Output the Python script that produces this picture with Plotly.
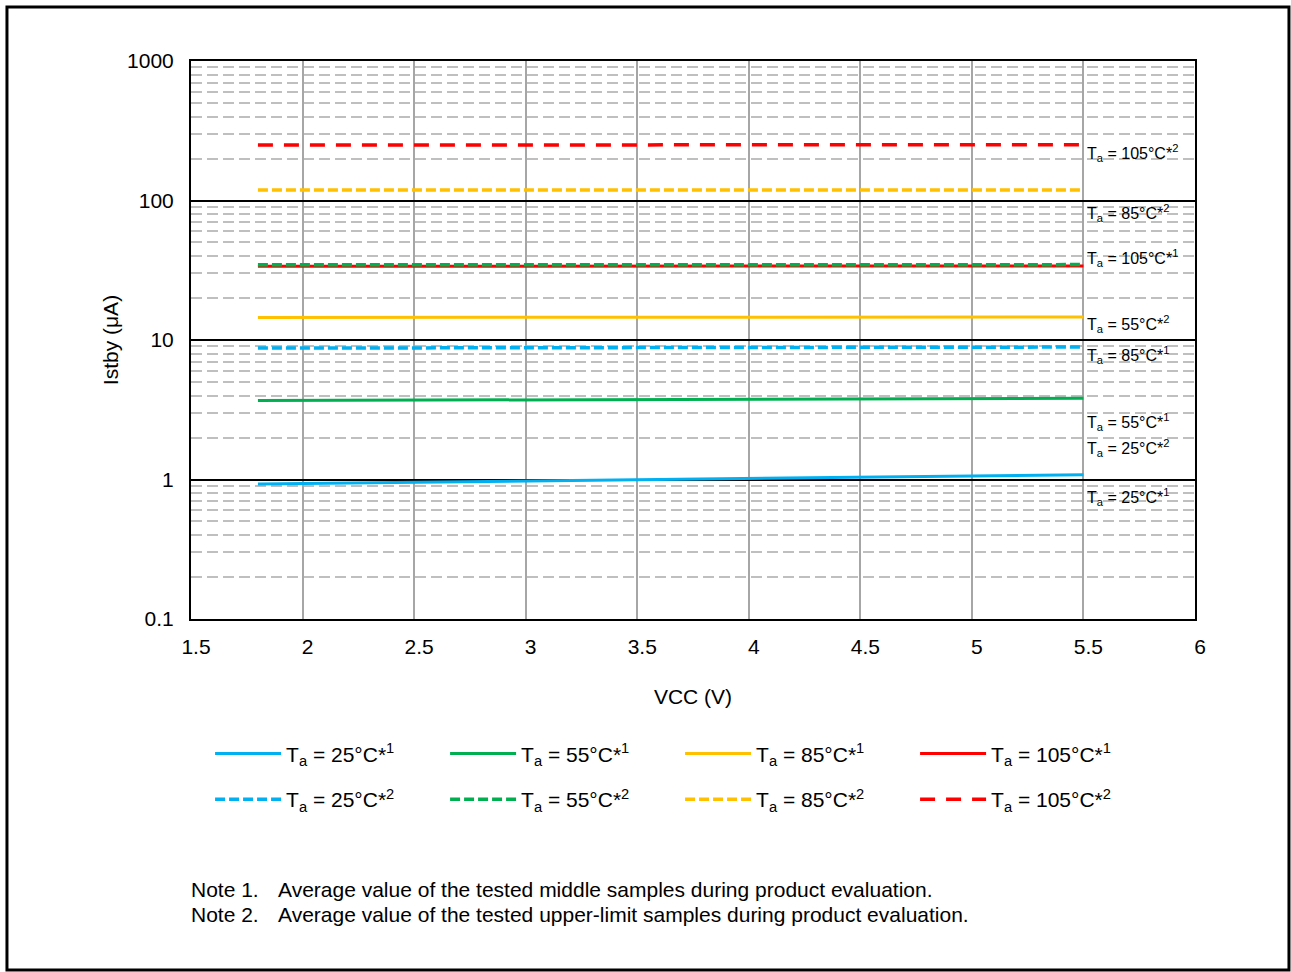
import plotly.graph_objects as go

# ---------------- data ----------------
vcc = [1.8, 3.6, 5.5]

names = [
    "T<sub>a</sub> = 25°C*<sup>1</sup>",
    "T<sub>a</sub> = 55°C*<sup>1</sup>",
    "T<sub>a</sub> = 85°C*<sup>1</sup>",
    "T<sub>a</sub> = 105°C*<sup>1</sup>",
    "T<sub>a</sub> = 25°C*<sup>2</sup>",
    "T<sub>a</sub> = 55°C*<sup>2</sup>",
    "T<sub>a</sub> = 85°C*<sup>2</sup>",
    "T<sub>a</sub> = 105°C*<sup>2</sup>",
]
ta25_1 = [0.93, 1.00, 1.08]
ta55_1 = [3.68, 3.75, 3.82]
ta85_1 = [14.5, 14.5, 14.6]
ta105_1 = [33.8, 33.8, 33.9]
ta25_2 = [8.75, 8.82, 8.9]
ta55_2 = [34.6, 34.6, 34.7]
ta85_2 = [119, 119, 119]
ta105_2 = [250, 250, 251]
series = [ta25_1, ta55_1, ta85_1, ta105_1, ta25_2, ta55_2, ta85_2, ta105_2]

colors = ["#00B0F0", "#00B050", "#FFC000", "#FF0000",
          "#00B0F0", "#00B050", "#FFC000", "#FF0000"]
dashes = ["solid", "solid", "solid", "solid",
          "10px,4px", "10px,4px", "10px,4px", "15px,11px"]

# right-hand labels (text, log10 y position)
label_texts = [
    "T<sub>a</sub> = 105°C*<sup>2</sup>",
    "T<sub>a</sub> = 85°C*<sup>2</sup>",
    "T<sub>a</sub> = 105°C*<sup>1</sup>",
    "T<sub>a</sub> = 55°C*<sup>2</sup>",
    "T<sub>a</sub> = 85°C*<sup>1</sup>",
    "T<sub>a</sub> = 55°C*<sup>1</sup>",
    "T<sub>a</sub> = 25°C*<sup>2</sup>",
    "T<sub>a</sub> = 25°C*<sup>1</sup>",
]
label_logy = [2.341, 1.910, 1.588, 1.115, 0.892, 0.412, 0.226, -0.125]

y_tickvals = [0.1, 1, 10, 100, 1000]
y_ticktext = ["0.1", "1", "10", "100", "1000"]
x_tickvals = [1.5, 2, 2.5, 3, 3.5, 4, 4.5, 5, 5.5, 6]
x_ticktext = ["1.5", "2", "2.5", "3", "3.5", "4", "4.5", "5", "5.5", "6"]
minor_vals = [m * 10 ** e for e in range(-1, 3) for m in range(2, 10)]

FONT = "Liberation Sans, Arial, sans-serif"
FS = 21

fig = go.Figure()
for i, (nm, ys) in enumerate(zip(names, series)):
    fig.add_trace(go.Scatter(
        x=vcc, y=ys, mode="lines", name=nm,
        line=dict(color=colors[i], width=3.5 if i >= 4 else 3, dash=dashes[i]),
        legend="legend" if i < 4 else "legend2",
        showlegend=True,
    ))

for t, ly in zip(label_texts, label_logy):
    fig.add_annotation(x=5.5, y=ly, xref="x", yref="y", text=t, showarrow=False,
                       xanchor="left", yanchor="middle", xshift=2,
                       font=dict(size=16, color="black", family=FONT))

# notes
note_y = [-0.484, -0.530]
note_lbl = ["Note 1.", "Note 2."]
note_txt = ["Average value of the tested middle samples during product evaluation.",
            "Average value of the tested upper-limit samples during product evaluation."]
for ny, nl, nt in zip(note_y, note_lbl, note_txt):
    fig.add_annotation(x=-0.002, y=ny, xref="paper", yref="paper", text=nl,
                       showarrow=False, xanchor="left", yanchor="middle",
                       font=dict(size=FS, color="black", family=FONT))
    fig.add_annotation(x=0.0845, y=ny, xref="paper", yref="paper", text=nt,
                       showarrow=False, xanchor="left", yanchor="middle",
                       font=dict(size=FS, color="black", family=FONT))

# outer frame
fig.add_shape(type="rect", xref="paper", yref="paper",
              x0=-0.1833, x1=1.0936, y0=-0.629, y1=1.0968,
              line=dict(color="black", width=3), fillcolor="rgba(0,0,0,0)")

leg_common = dict(orientation="h", entrywidth=154, entrywidthmode="pixels",
                  font=dict(size=FS, color="black", family=FONT),
                  itemwidth=66, bgcolor="rgba(0,0,0,0)", borderwidth=0,
                  xanchor="left", yanchor="middle", traceorder="normal")

fig.update_layout(
    width=1291, height=972,
    margin=dict(l=191, r=96, t=61, b=353),
    paper_bgcolor="white", plot_bgcolor="white",
    font=dict(family=FONT, size=FS, color="black"),
    legend=dict(x=0.019, y=-0.2417, **leg_common),
    legend2=dict(x=0.019, y=-0.3237, **leg_common),
    xaxis=dict(
        range=[1.5, 6], tickmode="array", tickvals=x_tickvals, ticktext=x_ticktext,
        showgrid=True, gridcolor="#A6A6A6", gridwidth=1.5,
        showline=True, linecolor="black", linewidth=2, mirror=True,
        ticks="", ticklabelstandoff=8, ticklabelshift=5,
        tickfont=dict(size=FS),
        title=dict(text="VCC (V)", font=dict(size=FS), standoff=32),
        zeroline=False,
    ),
    yaxis=dict(
        type="log", range=[-1, 3], tickmode="array", tickvals=y_tickvals, ticktext=y_ticktext,
        showgrid=True, gridcolor="black", gridwidth=2,
        showline=True, linecolor="black", linewidth=2, mirror=True,
        ticks="", ticklabelstandoff=11,
        tickfont=dict(size=FS),
        minor=dict(tickmode="array", tickvals=minor_vals, showgrid=True,
                   gridcolor="#BFBFBF", gridwidth=2, griddash="11px,5px", ticks=""),
        title=dict(text="Istby (μA)", font=dict(size=FS), standoff=3),
        zeroline=False,
    ),
)

fig.write_html("out.html")
